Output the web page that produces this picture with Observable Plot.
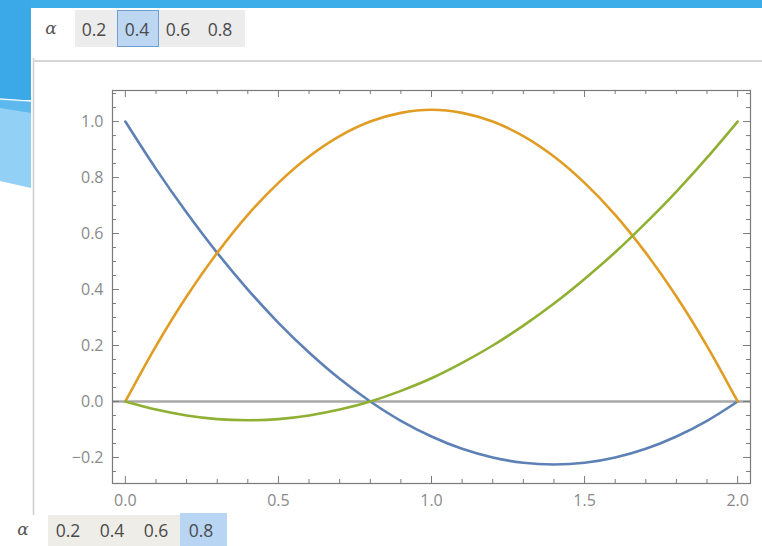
<!DOCTYPE html>
<html>
<head>
<meta charset="utf-8">
<script src="https://cdn.jsdelivr.net/npm/d3@7"></script>
<script src="https://cdn.jsdelivr.net/npm/@observablehq/plot@0.6"></script>
<style>
  html, body { margin: 0; padding: 0; background: #ffffff; }
  #page { position: relative; width: 762px; height: 546px; overflow: hidden; background: #ffffff; font-family: "Open Sans", "DejaVu Sans", sans-serif; }
  .abs { position: absolute; }
  .btn { position: absolute; font-size: 17.5px; color: #4a4a4a; transform: translate(-50%, -50%); white-space: nowrap; }
  .alpha { position: absolute; font-family: "DejaVu Serif", serif; font-style: italic; font-size: 17px; color: #555; transform: translate(-50%, -50%); }
  #chart { position: absolute; left: 0; top: 0; }
</style>
</head>
<body>
<div id="page">
  <svg class="abs" style="left:0;top:0" width="762" height="546">
    <rect x="0" y="0" width="762" height="8" fill="#3dadea"/>
    <rect x="0" y="0" width="31" height="100" fill="#3ba9e7"/>
    <polygon points="0,98 31,101 31,188 0,181" fill="#92d0f5"/>
    <polygon points="0,100 31,102 31,113 0,108" fill="#5db8ee"/>
    <line x1="0" y1="99" x2="31" y2="101" stroke="#ffffff" stroke-width="1"/>
    <line x1="33.5" y1="58" x2="33.5" y2="515" stroke="#cfcfcf" stroke-width="1.5"/>
    <line x1="33" y1="61" x2="762" y2="61" stroke="#d6d6d6" stroke-width="2"/>
    <rect x="75" y="10" width="170" height="37" fill="#ececec"/>
    <rect x="117.5" y="10.5" width="41" height="36" fill="#bdd7f3" stroke="#6b9fd6" stroke-width="1"/>
    <rect x="48" y="515" width="132" height="31" fill="#efede8"/>
    <rect x="180" y="513" width="47" height="33" fill="#b8d6f4"/>
  </svg>
  <div class="alpha" style="left:51px;top:28px">α</div>
  <div class="btn" style="left:94px;top:29px">0.2</div>
  <div class="btn" style="left:137px;top:29px">0.4</div>
  <div class="btn" style="left:178px;top:29px">0.6</div>
  <div class="btn" style="left:220px;top:29px">0.8</div>
  <div class="alpha" style="left:23px;top:529px">α</div>
  <div class="btn" style="left:68px;top:530px">0.2</div>
  <div class="btn" style="left:112px;top:530px">0.4</div>
  <div class="btn" style="left:156px;top:530px">0.6</div>
  <div class="btn" style="left:201px;top:530px">0.8</div>
  <div id="chart"></div>
</div>
<script>
const xs = [0,0.1,0.2,0.3,0.4,0.5,0.6,0.7,0.8,0.9,1.0,1.1,1.2,1.3,1.4,1.5,1.6,1.7,1.8,1.9,2.0];
const blueY = [1.000,0.831,0.675,0.531,0.400,0.281,0.175,0.081,0.000,-0.069,-0.125,-0.169,-0.200,-0.219,-0.225,-0.219,-0.200,-0.169,-0.125,-0.069,0.000];
const orangeY = [0,0.198,0.375,0.531,0.667,0.781,0.875,0.948,1.000,1.031,1.042,1.031,1.000,0.948,0.875,0.781,0.667,0.531,0.375,0.198,0];
const greenY = [0,-0.029,-0.050,-0.063,-0.067,-0.063,-0.050,-0.029,0,0.038,0.083,0.138,0.200,0.271,0.350,0.438,0.533,0.638,0.750,0.871,1.000];

const seriesNames = ["s1", "s2", "s3"];
const seriesColors = ["#5e81b5", "#e19c24", "#8fb032"];

const xMajor = [0, 0.5, 1.0, 1.5, 2.0];
const xMajorLabels = ["0.0", "0.5", "1.0", "1.5", "2.0"];
const xMinor = [0.1,0.2,0.3,0.4,0.6,0.7,0.8,0.9,1.1,1.2,1.3,1.4,1.6,1.7,1.8,1.9];
const yMajor = [-0.2, 0, 0.2, 0.4, 0.6, 0.8, 1.0];
const yMajorLabels = ["\u22120.2", "0.0", "0.2", "0.4", "0.6", "0.8", "1.0"];
const yMinor = [-0.25,-0.15,-0.1,-0.05,0.05,0.1,0.15,0.25,0.3,0.35,0.45,0.5,0.55,0.65,0.7,0.75,0.85,0.9,0.95,1.05,1.1];

const table = [];
[blueY, orangeY, greenY].forEach((ys, s) => {
  xs.forEach((x, i) => table.push({series: seriesNames[s], x, y: ys[i]}));
});

const W = 762, H = 546, mL = 112, mR = 12, mT = 90, mB = 63;
const innerW = W - mL - mR, innerH = H - mT - mB;
const tickCol = "#7a7a7a";

const chart = Plot.plot({
  width: W, height: H,
  marginLeft: mL, marginRight: mR, marginTop: mT, marginBottom: mB,
  style: {background: "transparent", color: "#8a8a8a", fontFamily: "'Open Sans', 'DejaVu Sans', sans-serif"},
  x: {domain: [-0.042, 2.042], axis: null, label: null},
  y: {domain: [-0.293, 1.111], axis: null, label: null},
  color: {domain: seriesNames, range: seriesColors},
  marks: [
    Plot.ruleY([0], {stroke: "#a8a8a8", strokeWidth: 2.5}),
    Plot.line(table, {x: "x", y: "y", z: "series", stroke: "series", strokeWidth: 2.6, curve: "catmull-rom"}),
    Plot.frame({stroke: tickCol, strokeWidth: 1.2}),
    Plot.tickX(xMajor, {x: d => d, insetTop: innerH - 7, stroke: tickCol}),
    Plot.tickX(xMajor, {x: d => d, insetBottom: innerH - 7, stroke: tickCol}),
    Plot.tickX(xMinor, {x: d => d, insetTop: innerH - 4, stroke: tickCol}),
    Plot.tickX(xMinor, {x: d => d, insetBottom: innerH - 4, stroke: tickCol}),
    Plot.tickY(yMajor, {y: d => d, insetRight: innerW - 7, stroke: tickCol}),
    Plot.tickY(yMajor, {y: d => d, insetLeft: innerW - 7, stroke: tickCol}),
    Plot.tickY(yMinor, {y: d => d, insetRight: innerW - 4, stroke: tickCol}),
    Plot.tickY(yMinor, {y: d => d, insetLeft: innerW - 4, stroke: tickCol}),
    Plot.axisX(xMajor, {label: null, tickSize: 0, tickPadding: 11, fontSize: 16, tickFormat: (d) => xMajorLabels[xMajor.indexOf(d)]}),
    Plot.axisY(yMajor, {label: null, tickSize: 0, tickPadding: 9, fontSize: 16, tickFormat: (d) => yMajorLabels[yMajor.indexOf(d)]})
  ]
});
document.getElementById("chart").appendChild(chart);
</script>
</body>
</html>
